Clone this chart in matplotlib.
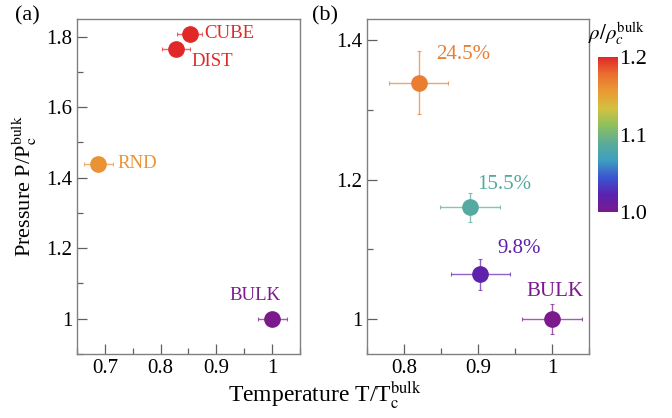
import matplotlib
matplotlib.use("Agg")
from matplotlib import pyplot as plt
from matplotlib.colors import LinearSegmentedColormap, Normalize
from matplotlib.ticker import MultipleLocator
import numpy as np

plt.rcParams["font.family"] = ["Liberation Serif", "DejaVu Serif"]
plt.rcParams["mathtext.fontset"] = "stix"

# panel (a): shapes of the confinement
a_labels = ["CUBE", "DIST", "RND", "BULK"]
a_temp = [0.852, 0.827, 0.688, 1.0]
a_temp_err = [0.023, 0.025, 0.026, 0.026]
a_press = [1.808, 1.766, 1.44, 1.0]
a_rho = [1.2, 1.2, 1.16, 1.0]

# panel (b): porosity
b_labels = ["24.5%", "15.5%", "9.8%", "BULK"]
b_temp = [0.82, 0.889, 0.903, 1.0]
b_temp_err = [0.04, 0.041, 0.04, 0.04]
b_press = [1.339, 1.16, 1.064, 1.0]
b_press_err = [0.045, 0.021, 0.022, 0.022]
b_rho = [1.17, 1.085, 1.02, 1.0]

cmap = LinearSegmentedColormap.from_list(
    "dens",
    ["#7a1a8c", "#5a22b0", "#3b55d0", "#3e9fc0", "#5aab98", "#8cc060",
     "#d4c040", "#ea9a35", "#e9702f", "#e02828"])
norm = Normalize(1.0, 1.2)

fig = plt.figure(figsize=(6.72, 4.18), dpi=100)
ax1 = fig.add_axes([0.1146, 0.1531, 0.3318, 0.8014])
ax2 = fig.add_axes([0.5461, 0.1531, 0.3304, 0.8014])
cax = fig.add_axes([0.8899, 0.4928, 0.0298, 0.3708])


def style_axis(ax):
    for sp in ax.spines.values():
        sp.set_color("#808080")
        sp.set_linewidth(1.0)
    ax.tick_params(which="both", direction="in", colors="#606060",
                   labelcolor="black", labelsize=15)
    ax.tick_params(which="major", length=7, width=0.9)
    ax.tick_params(which="minor", length=4, width=0.9)


def fmt(v):
    return "1" if abs(v - 1) < 1e-9 else f"{v:.1f}"


# (a)
for lab, x, xe, y, r in zip(a_labels, a_temp, a_temp_err, a_press, a_rho):
    c = cmap(norm(r))
    ax1.errorbar(x, y, xerr=xe, fmt="none", ecolor=c, alpha=0.7,
                 elinewidth=1.0, capsize=1.5, capthick=0.8)
    ax1.plot(x, y, "o", color=c, ms=11, zorder=3)

offsets_a = {"CUBE": (0.027, 0.0, "left", "center"),
             "DIST": (0.029, -0.036, "left", "center"),
             "RND": (0.035, 0.0, "left", "center"),
             "BULK": (-0.03, 0.066, "center", "center")}
for lab, x, y, r in zip(a_labels, a_temp, a_press, a_rho):
    dx, dy, ha, va = offsets_a[lab]
    ax1.text(x + dx, y + dy, lab, color=cmap(norm(r)), fontsize=13.5,
             ha=ha, va=va)

ax1.set_xlim(0.65, 1.05)
ax1.set_ylim(0.9, 1.85)
ax1.set_xticks([0.7, 0.8, 0.9, 1.0])
ax1.set_yticks([1.0, 1.2, 1.4, 1.6, 1.8])
ax1.set_xticklabels([fmt(v) for v in [0.7, 0.8, 0.9, 1.0]])
ax1.set_yticklabels([fmt(v) for v in [1.0, 1.2, 1.4, 1.6, 1.8]])
ax1.xaxis.set_minor_locator(MultipleLocator(0.05))
ax1.yaxis.set_minor_locator(MultipleLocator(0.1))
style_axis(ax1)
ax1.set_ylabel(r"Pressure P/P$_\mathrm{c}^\mathrm{bulk}$", fontsize=16,
               labelpad=5)

# (b)
for lab, x, xe, y, ye, r in zip(b_labels, b_temp, b_temp_err, b_press,
                                b_press_err, b_rho):
    c = cmap(norm(r))
    ax2.errorbar(x, y, xerr=xe, yerr=ye, fmt="none", ecolor=c, alpha=0.7,
                 elinewidth=1.0, capsize=1.5, capthick=0.8)
    ax2.plot(x, y, "o", color=c, ms=11, zorder=3)

offsets_b = {"24.5%": (0.023, 0.04),
             "15.5%": (0.01, 0.033),
             "9.8%": (0.023, 0.037),
             "BULK": (-0.035, 0.039)}
for lab, x, y, r in zip(b_labels, b_temp, b_press, b_rho):
    dx, dy = offsets_b[lab]
    ax2.text(x + dx, y + dy, lab, color=cmap(norm(r)), fontsize=15,
             ha="left", va="center")

ax2.set_xlim(0.75, 1.05)
ax2.set_ylim(0.95, 1.43)
ax2.set_xticks([0.8, 0.9, 1.0])
ax2.set_yticks([1.0, 1.2, 1.4])
ax2.set_xticklabels([fmt(v) for v in [0.8, 0.9, 1.0]])
ax2.set_yticklabels([fmt(v) for v in [1.0, 1.2, 1.4]])
ax2.xaxis.set_minor_locator(MultipleLocator(0.05))
ax2.yaxis.set_minor_locator(MultipleLocator(0.1))
style_axis(ax2)

fig.text(0.484, 0.055, r"Temperature T/T$_\mathrm{c}^\mathrm{bulk}$",
         fontsize=17, ha="center", va="center")

fig.text(0.022, 0.962, "(a)", fontsize=16, ha="left", va="center")
fig.text(0.464, 0.962, "(b)", fontsize=16, ha="left", va="center")

# colorbar
sm = plt.cm.ScalarMappable(norm=norm, cmap=cmap)
cb = fig.colorbar(sm, cax=cax, ticks=[1.0, 1.1, 1.2])
cb.outline.set_visible(False)
cb.ax.tick_params(length=0, labelsize=16, pad=1)
cb.ax.set_yticklabels(["1.0", "1.1", "1.2"])
fig.text(0.918, 0.922, r"$\rho/\rho_c^\mathrm{bulk}$", fontsize=15,
         ha="center", va="center")

fig.savefig("out.png", dpi=100)
